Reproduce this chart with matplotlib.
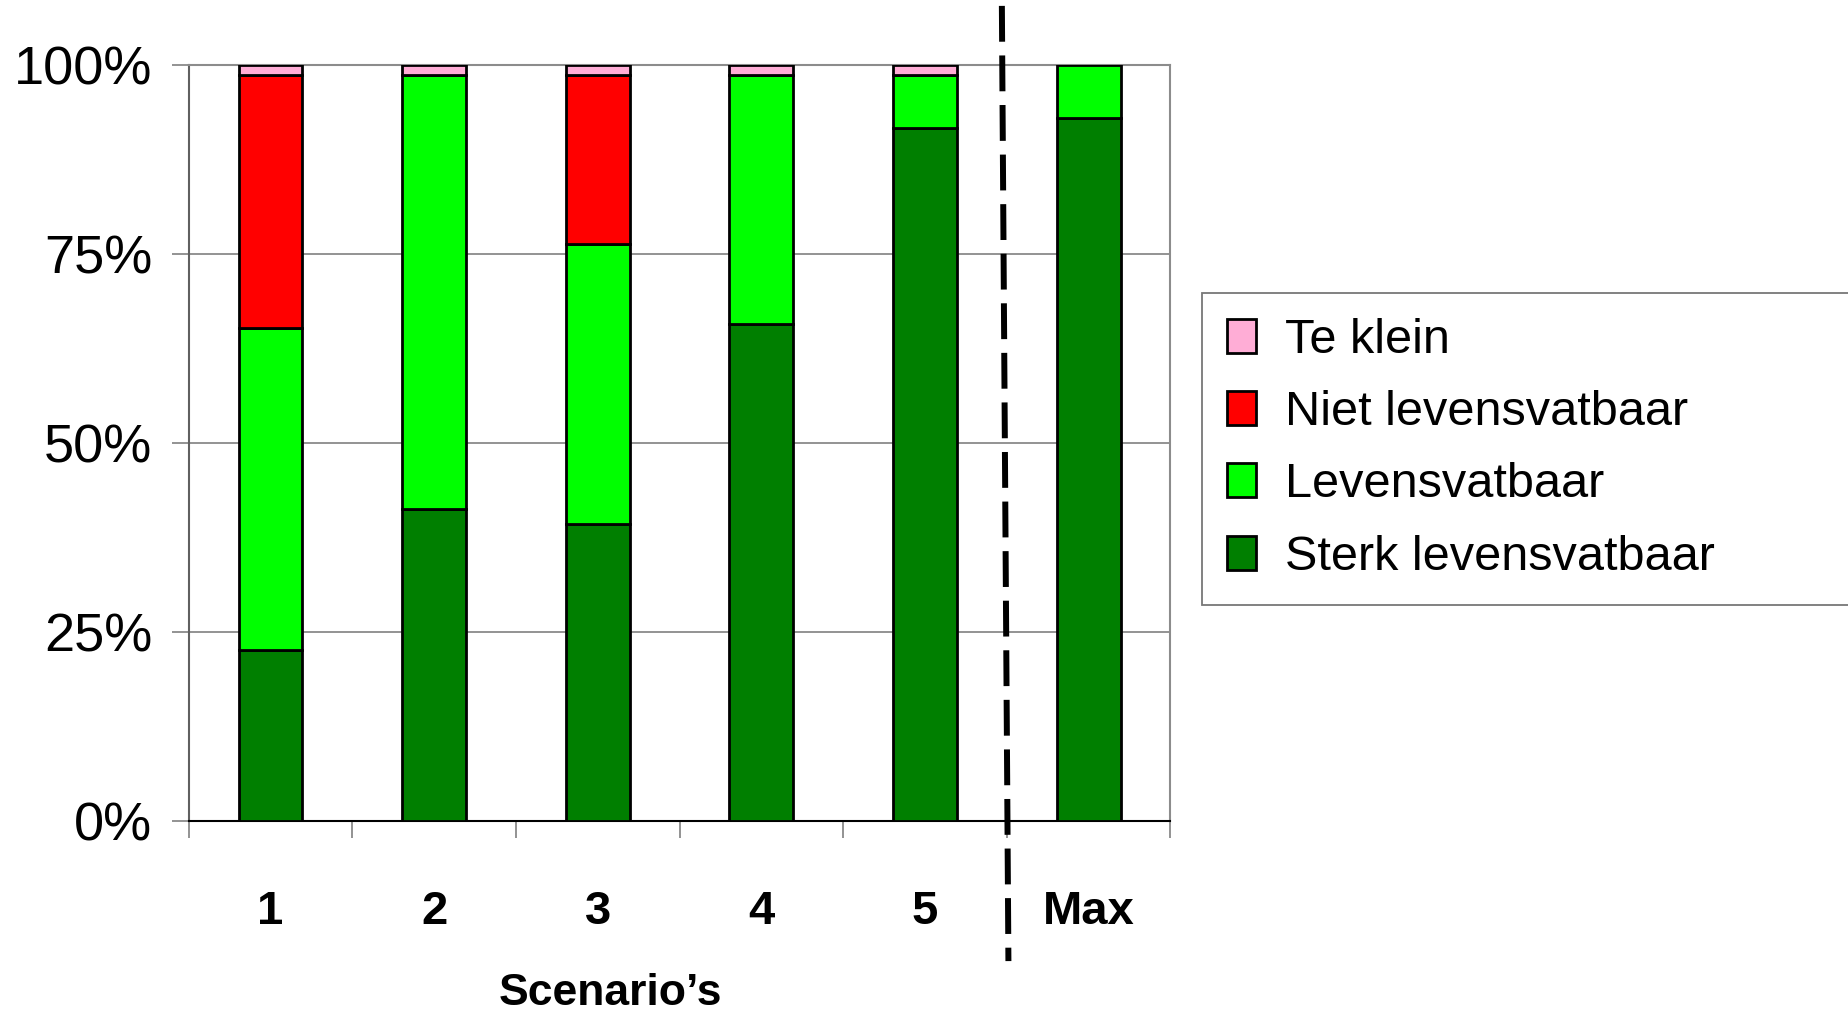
import numpy as np
import matplotlib
matplotlib.use("Agg")
import matplotlib.pyplot as plt
from matplotlib.patches import Patch

plt.rcParams['font.family'] = ['Liberation Sans', 'DejaVu Sans']

# categories and stacked shares (bottom -> top)
scenarios = ["1", "2", "3", "4", "5", "Max"]
sterk = [0.226, 0.412, 0.393, 0.657, 0.916, 0.930]
levensvatbaar = [0.426, 0.574, 0.370, 0.329, 0.070, 0.070]
niet = [0.335, 0.0, 0.224, 0.0, 0.0, 0.0]
te_klein = [0.013, 0.014, 0.013, 0.014, 0.014, 0.0]

series = [
    ("Sterk levensvatbaar", sterk, "#007f00"),
    ("Levensvatbaar", levensvatbaar, "#00ff00"),
    ("Niet levensvatbaar", niet, "#ff0000"),
    ("Te klein", te_klein, "#ffadd6"),
]

fig = plt.figure(figsize=(18.49, 10.13), dpi=100)
ax = fig.add_axes([0.102, 0.190, 0.531, 0.746])

x = np.arange(len(scenarios))
bottom = np.zeros(len(scenarios))
for name, vals, col in series:
    vals = np.array(vals)
    mask = vals > 0
    ax.bar(x[mask], vals[mask], bottom=bottom[mask], width=0.39, color=col,
           edgecolor="black", linewidth=2, zorder=3)
    bottom += vals

ax.set_xlim(-0.5, len(scenarios) - 0.5)
ax.set_ylim(0, 1)
ax.set_yticks([0, 0.25, 0.5, 0.75, 1.0])
ax.set_yticklabels(["0%", "25%", "50%", "75%", "100%"], fontsize=39)
ax.yaxis.grid(True, color="#808080", linewidth=1.2, zorder=0)
ax.set_axisbelow(True)
ax.tick_params(axis="y", length=12, width=1.2, color="#808080", pad=14)

ax.set_xticks(x)
ax.set_xticklabels(scenarios, fontsize=34, fontweight="bold")
ax.tick_params(axis="x", which="major", length=0, pad=50)
ax.set_xticks(np.arange(-0.5, len(scenarios)), minor=True)
ax.tick_params(axis="x", which="minor", length=12, width=1.2, color="#808080")

for side in ["top", "right"]:
    ax.spines[side].set_color("#8c8c8c")
    ax.spines[side].set_linewidth(1.5)
ax.spines["left"].set_color("#606060")
ax.spines["left"].set_linewidth(1.5)
ax.spines["bottom"].set_color("black")
ax.spines["bottom"].set_linewidth(1.5)

# separator between scenarios and Max
ax.plot([4.47, 4.51], [1.078, -0.186], color="black", lw=4.3,
        dashes=(6, 2.3), clip_on=False, zorder=5)

fig.text(0.330, 0.008, "Scenario\u2019s", fontsize=32, fontweight="bold",
         ha="center", va="baseline")

handles = [Patch(facecolor=col, edgecolor="black", linewidth=2, label=name)
           for name, vals, col in series[::-1]]
leg = fig.legend(handles=handles, loc="upper left",
                 bbox_to_anchor=(0.650, 0.414, 0.40, 0.297), mode="expand",
                 fontsize=35, frameon=True, fancybox=False,
                 handlelength=0.6, handleheight=0.7, handletextpad=0.6,
                 labelspacing=0.56, borderpad=0.52, borderaxespad=0)
leg.get_frame().set_edgecolor("#555555")
leg.get_frame().set_linewidth(1.3)

fig.savefig("out.png", dpi=100)
